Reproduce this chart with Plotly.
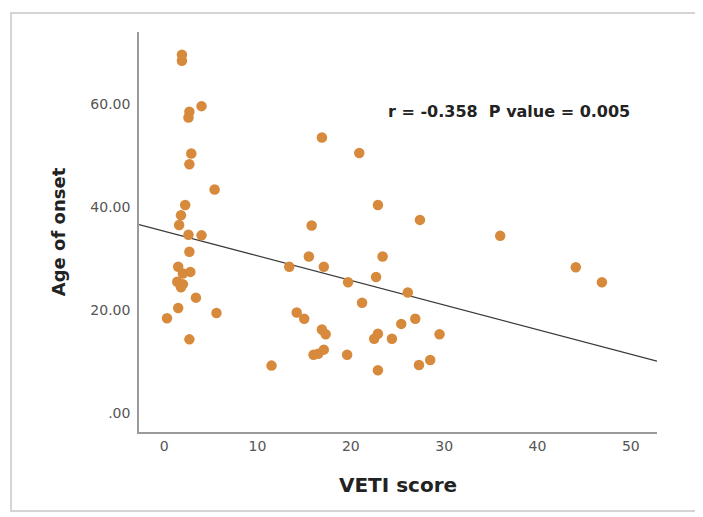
import plotly.graph_objects as go

# VETI score (x) and Age of onset (y)
veti_score = [
    1.9, 1.9, 4.0, 2.7, 2.6, 2.9, 2.7, 5.4, 2.25, 1.8, 1.6, 2.6, 4.0, 2.7,
    1.5, 2.8, 2.0, 1.4, 2.0, 1.8, 3.4, 1.5, 0.3, 5.6, 2.7,
    16.9, 20.9, 22.9, 15.8, 27.4, 15.5, 23.4, 13.4, 17.1, 22.7, 19.7, 26.1,
    21.2, 14.2, 15.0, 26.9, 25.4, 16.9, 17.3, 22.9, 22.5, 24.4, 29.5, 17.1,
    16.5, 16.0, 19.6, 11.5, 22.9, 27.3, 28.5,
    36.0, 44.1, 46.9,
]
age_of_onset = [
    69.6, 68.4, 59.6, 58.5, 57.4, 50.4, 48.3, 43.4, 40.4, 38.4, 36.5, 34.6, 34.5, 31.3,
    28.4, 27.4, 27.1, 25.5, 25.0, 24.4, 22.4, 20.4, 18.4, 19.4, 14.3,
    53.5, 50.5, 40.4, 36.4, 37.5, 30.4, 30.4, 28.4, 28.4, 26.4, 25.4, 23.4,
    21.4, 19.5, 18.3, 18.3, 17.3, 16.2, 15.3, 15.4, 14.4, 14.4, 15.3, 12.3,
    11.5, 11.3, 11.3, 9.2, 8.3, 9.3, 10.3,
    34.4, 28.3, 25.4,
]

# Fit line coefficients as drawn in the reference
fit_intercept = 35.3
fit_slope = -0.478

x_range = [-2.7, 52.8]
y_range = [-3.7, 74.0]

x_tick_vals = [0, 10, 20, 30, 40, 50]
x_tick_text = ["0", "10", "20", "30", "40", "50"]
y_tick_vals = [0, 20, 40, 60]
y_tick_text = [".00", "20.00", "40.00", "60.00"]

annotation_text = "r = -0.358  P value = 0.005"

fit_x = x_range
fit_y = [fit_intercept + fit_slope * v for v in fit_x]

fig = go.Figure()
fig.add_trace(go.Scatter(
    x=fit_x, y=fit_y, mode="lines",
    line=dict(color="#3a3a3a", width=1.3),
    showlegend=False, hoverinfo="skip",
))
fig.add_trace(go.Scatter(
    x=veti_score, y=age_of_onset, mode="markers",
    marker=dict(color="#D88A3C", size=10.5, line=dict(width=0)),
    showlegend=False,
))

tick_family = "DejaVu Sans, Arial, sans-serif"
title_family = "DejaVu Sans, Arial, sans-serif"

fig.update_layout(
    width=695, height=509,
    margin=dict(l=131, r=46, t=24, b=85),
    paper_bgcolor="white", plot_bgcolor="white",
    font=dict(family=tick_family, color="#444"),
    xaxis=dict(
        range=x_range, tickvals=x_tick_vals, ticktext=x_tick_text,
        showgrid=False, zeroline=False, showline=True, linecolor="#9a9a9a",
        linewidth=1.5, ticks="", tickfont=dict(size=14, color="#555", family=tick_family),
        title=dict(text="<b>VETI score</b>", font=dict(size=20, color="#222", family=title_family), standoff=25),
    ),
    yaxis=dict(
        range=y_range, tickvals=y_tick_vals, ticktext=y_tick_text,
        showgrid=False, zeroline=False, showline=True, linecolor="#9a9a9a",
        linewidth=1.5, ticks="", ticklabelstandoff=4,
        tickfont=dict(size=14, color="#555", family=tick_family),
        title=dict(text="<b>Age of onset</b>", font=dict(size=18, color="#222", family=title_family), standoff=20),
    ),
    annotations=[dict(
        text="<b>" + annotation_text + "</b>", xref="paper", yref="paper",
        x=0.714, y=0.8025, xanchor="center", yanchor="middle", showarrow=False,
        font=dict(size=16, color="#222", family=title_family),
    )],
    shapes=[dict(
        type="rect", xref="paper", yref="paper",
        x0=-0.247, x1=1.1, y0=-0.1975, y1=1.0475,
        line=dict(color="#d4d4d4", width=2), layer="below",
    )],
)

fig.write_html("out.html")
